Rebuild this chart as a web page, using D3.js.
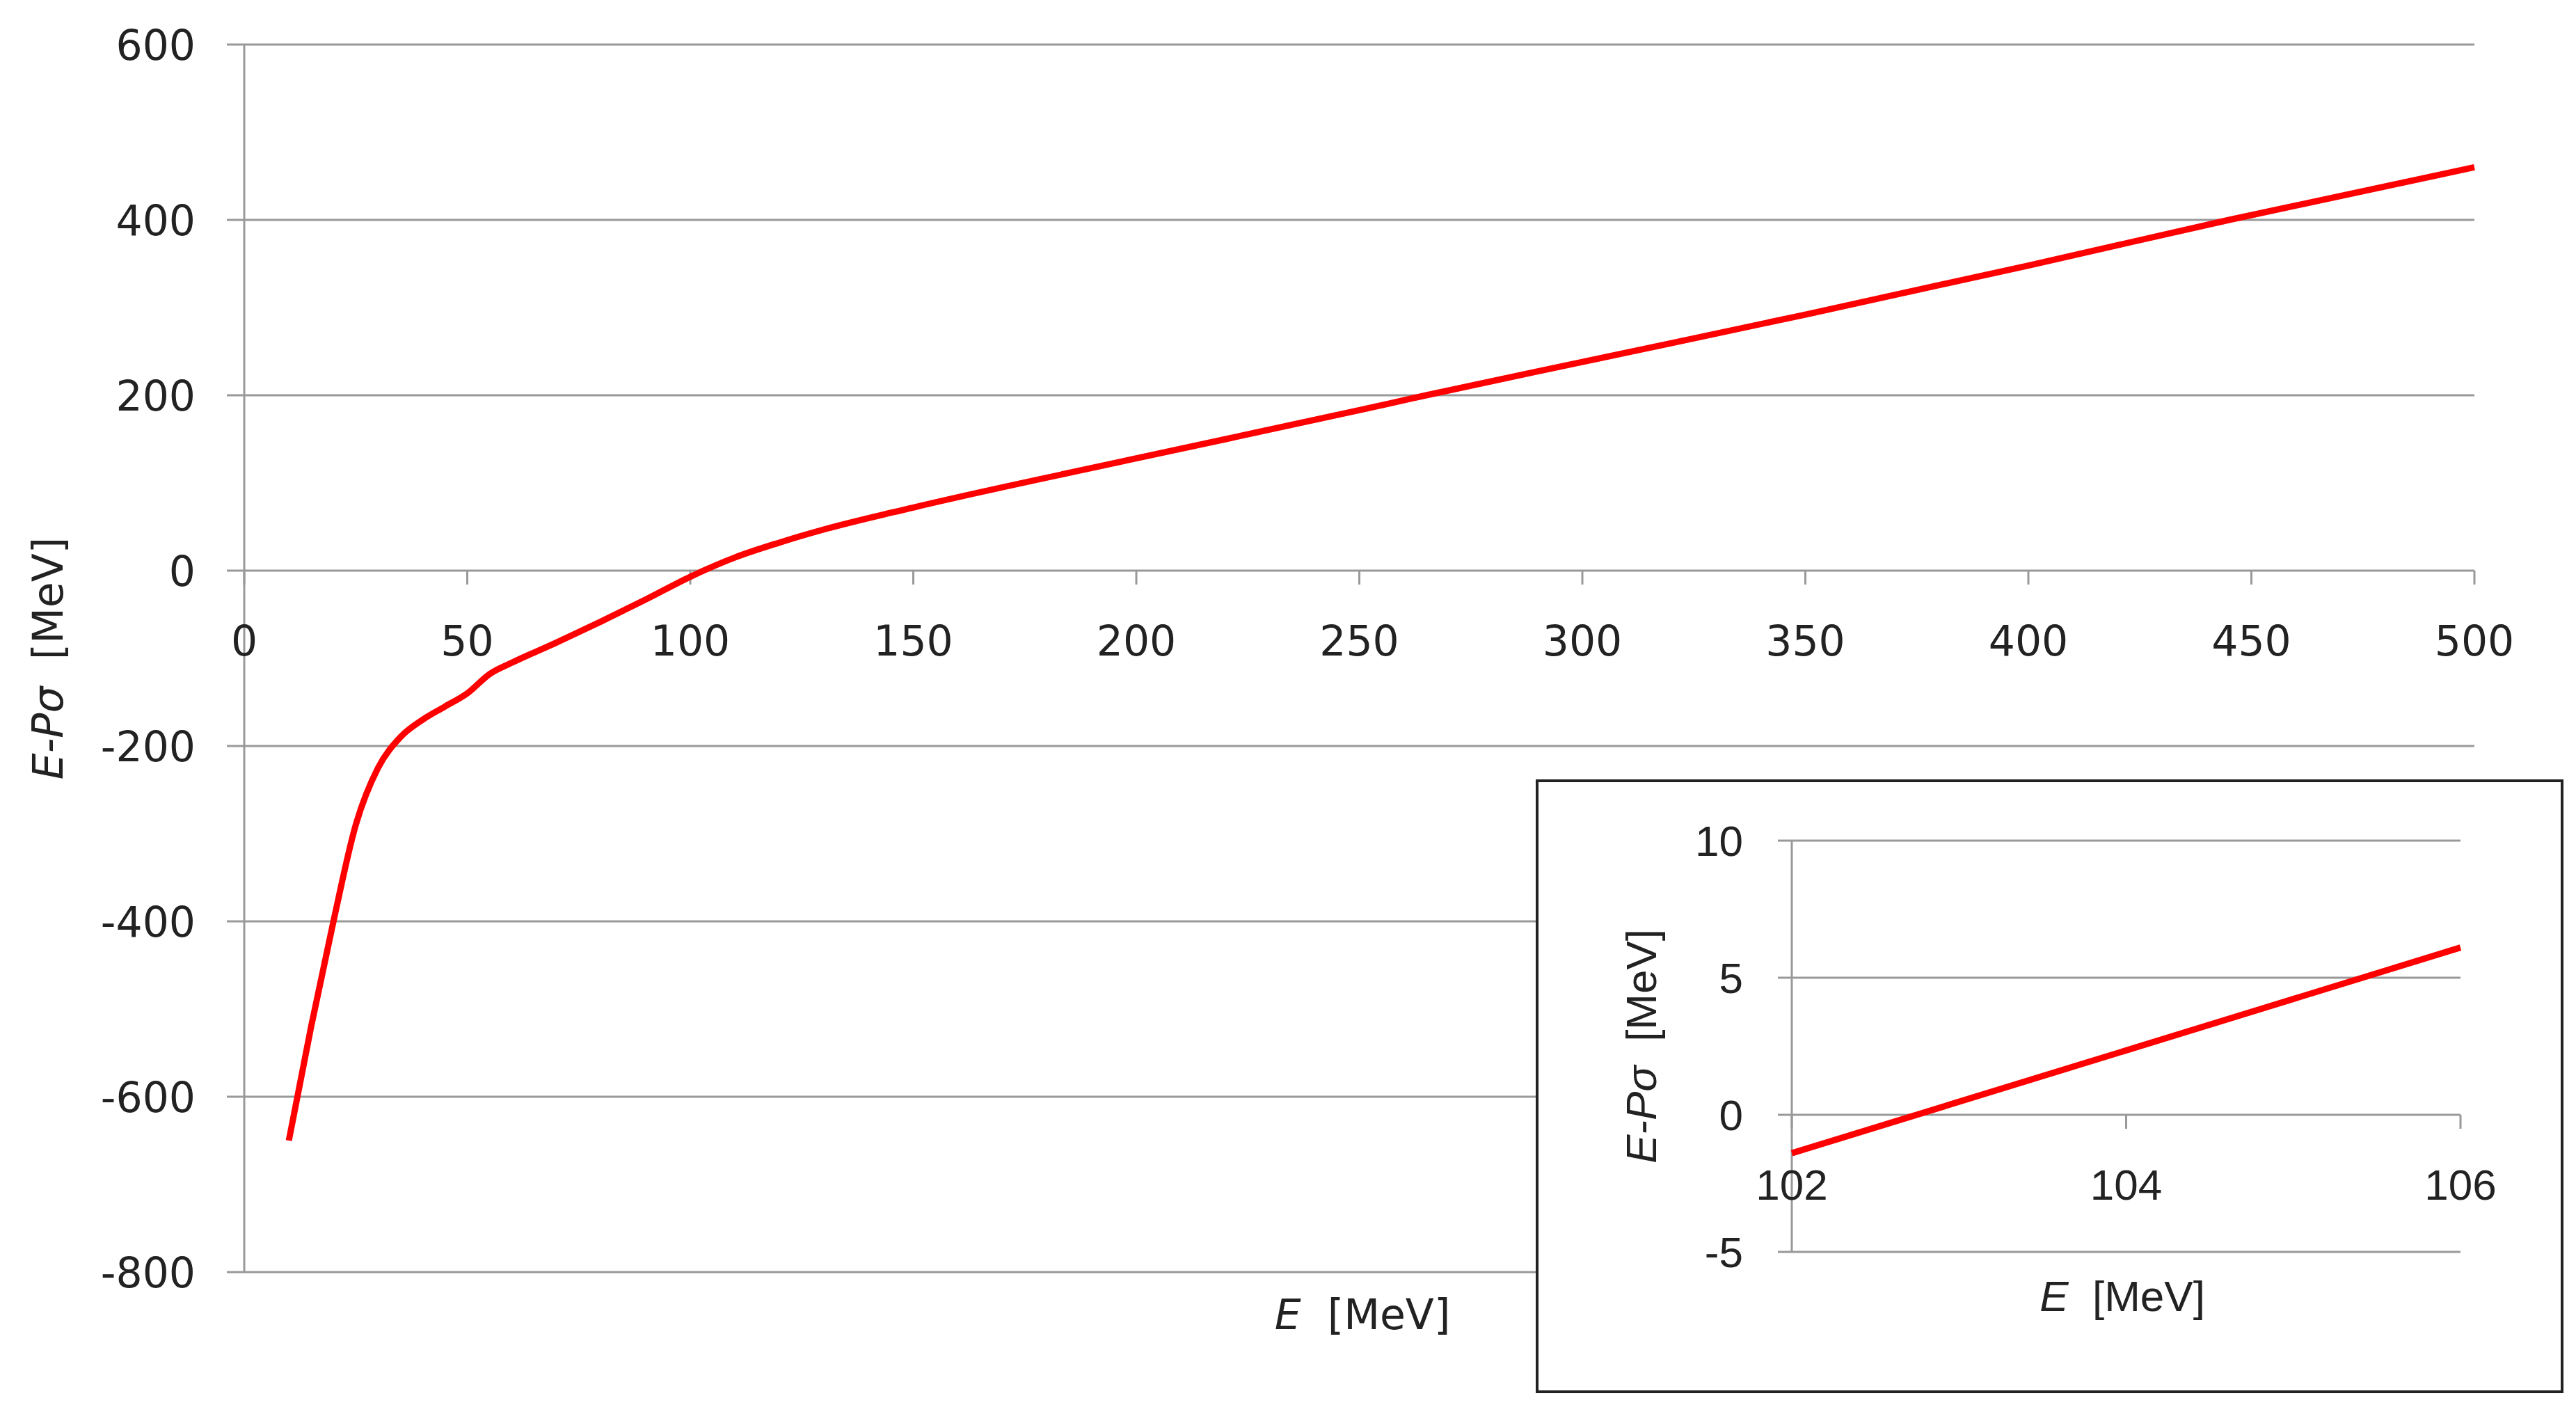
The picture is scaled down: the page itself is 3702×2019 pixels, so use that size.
<!DOCTYPE html>
<html lang="en">
<head>
<meta charset="UTF-8">
<title>E-Pσ vs E</title>
<script src="https://cdn.jsdelivr.net/npm/d3@7"></script>
<style>
  body { margin: 0; background: #fff; }
  text { font-family: 'DejaVu Sans', sans-serif; fill: #222; white-space: pre; }
  .inset text { font-family: 'Liberation Sans', sans-serif; }
</style>
</head>
<body>
<svg id="chart"></svg>
<script>
// main curve: E [MeV] and E-Pσ [MeV]
const energy = [10, 15, 20, 25, 30, 35, 40, 45, 50, 55, 60, 70, 80, 90, 100, 110, 120, 130, 150, 200, 250, 265, 300, 350, 400, 445, 500];
const diff   = [-650, -520, -400, -290, -225, -190, -170, -155, -140, -118, -105, -82, -58, -33, -7, 15, 32, 47, 72, 128, 183, 200, 238, 292, 348, 400, 460];
const xTicks = [0, 50, 100, 150, 200, 250, 300, 350, 400, 450, 500];
const yTicks = [-800, -600, -400, -200, 0, 200, 400, 600];

// inset zoom near the zero crossing
const insetEnergy = [102, 106];
const insetDiff = [-1.4, 6.1];
const insetXTicks = [102, 104, 106];
const insetYTicks = [-5, 0, 5, 10];

const W = 3702, H = 2019;
const svg = d3.select('#chart').attr('width', W).attr('height', H);
const grid = '#999';

// main plot
const x = d3.scaleLinear().domain([0, 500]).range([351, 3556]);
const y = d3.scaleLinear().domain([-800, 600]).range([1828, 64]);

svg.append('g').selectAll('line').data(yTicks).enter().append('line')
    .attr('x1', x(0) - 25).attr('x2', x(500))
    .attr('y1', d => y(d)).attr('y2', d => y(d))
    .attr('stroke', grid).attr('stroke-width', 3);

svg.append('line').attr('x1', x(0)).attr('x2', x(0))
    .attr('y1', y(600)).attr('y2', y(-800))
    .attr('stroke', grid).attr('stroke-width', 3);

svg.append('g').selectAll('line').data(xTicks).enter().append('line')
    .attr('x1', d => x(d)).attr('x2', d => x(d))
    .attr('y1', y(0)).attr('y2', y(0) + 20)
    .attr('stroke', grid).attr('stroke-width', 3);

svg.append('g').selectAll('text').data(yTicks).enter().append('text')
    .attr('x', x(0) - 70).attr('y', d => y(d) + 22)
    .attr('text-anchor', 'end').style('font-size', '60px')
    .text(d => d);

svg.append('g').selectAll('text').data(xTicks).enter().append('text')
    .attr('x', d => x(d)).attr('y', y(0) + 122)
    .attr('text-anchor', 'middle').style('font-size', '60px')
    .text(d => d);

const mainLabelY = svg.append('text')
    .attr('transform', `translate(90,${y(-100)}) rotate(-90)`)
    .attr('text-anchor', 'middle').style('font-size', '60px');
mainLabelY.append('tspan').style('font-style', 'italic').text('E-Pσ');
mainLabelY.append('tspan').text('  [MeV]');

const mainLabelX = svg.append('text')
    .attr('x', 1958).attr('y', 1910)
    .attr('text-anchor', 'middle').style('font-size', '60px');
mainLabelX.append('tspan').style('font-style', 'italic').text('E');
mainLabelX.append('tspan').text('  [MeV]');

const line = d3.line().x(d => x(d[0])).y(d => y(d[1])).curve(d3.curveMonotoneX);
svg.append('path').datum(d3.zip(energy, diff))
    .attr('d', line).attr('fill', 'none')
    .attr('stroke', '#f00').attr('stroke-width', 9).attr('stroke-linejoin', 'round');

// inset
const ins = svg.append('g').attr('class', 'inset');
ins.append('rect').attr('x', 2209).attr('y', 1122).attr('width', 1473).attr('height', 878)
    .attr('fill', '#fff').attr('stroke', '#222').attr('stroke-width', 4);

const ix = d3.scaleLinear().domain([102, 106]).range([2575, 3536]);
const iy = d3.scaleLinear().domain([-5, 10]).range([1799, 1208]);

ins.append('g').selectAll('line').data(insetYTicks).enter().append('line')
    .attr('x1', ix(102) - 20).attr('x2', ix(106))
    .attr('y1', d => iy(d)).attr('y2', d => iy(d))
    .attr('stroke', grid).attr('stroke-width', 3);
ins.append('line').attr('x1', ix(102)).attr('x2', ix(102))
    .attr('y1', iy(10)).attr('y2', iy(-5)).attr('stroke', grid).attr('stroke-width', 3);
ins.append('g').selectAll('line').data(insetXTicks).enter().append('line')
    .attr('x1', d => ix(d)).attr('x2', d => ix(d))
    .attr('y1', iy(0)).attr('y2', iy(0) + 20)
    .attr('stroke', grid).attr('stroke-width', 3);

ins.append('g').selectAll('text').data(insetYTicks).enter().append('text')
    .attr('x', ix(102) - 70).attr('y', d => iy(d) + 22)
    .attr('text-anchor', 'end').style('font-size', '62px')
    .text(d => d);
ins.append('g').selectAll('text').data(insetXTicks).enter().append('text')
    .attr('x', d => ix(d)).attr('y', iy(0) + 122)
    .attr('text-anchor', 'middle').style('font-size', '62px')
    .text(d => d);

const insLabelY = ins.append('text')
    .attr('transform', `translate(2380,${iy(2.5)}) rotate(-90)`)
    .attr('text-anchor', 'middle').style('font-size', '62px');
insLabelY.append('tspan').style('font-style', 'italic').text('E-Pσ');
insLabelY.append('tspan').text('  [MeV]');

const insLabelX = ins.append('text')
    .attr('x', 3050).attr('y', 1884)
    .attr('text-anchor', 'middle').style('font-size', '62px');
insLabelX.append('tspan').style('font-style', 'italic').text('E');
insLabelX.append('tspan').text('  [MeV]');

ins.append('path').datum(d3.zip(insetEnergy, insetDiff))
    .attr('d', d3.line().x(d => ix(d[0])).y(d => iy(d[1])))
    .attr('fill', 'none').attr('stroke', '#f00').attr('stroke-width', 9);
</script>
</body>
</html>
